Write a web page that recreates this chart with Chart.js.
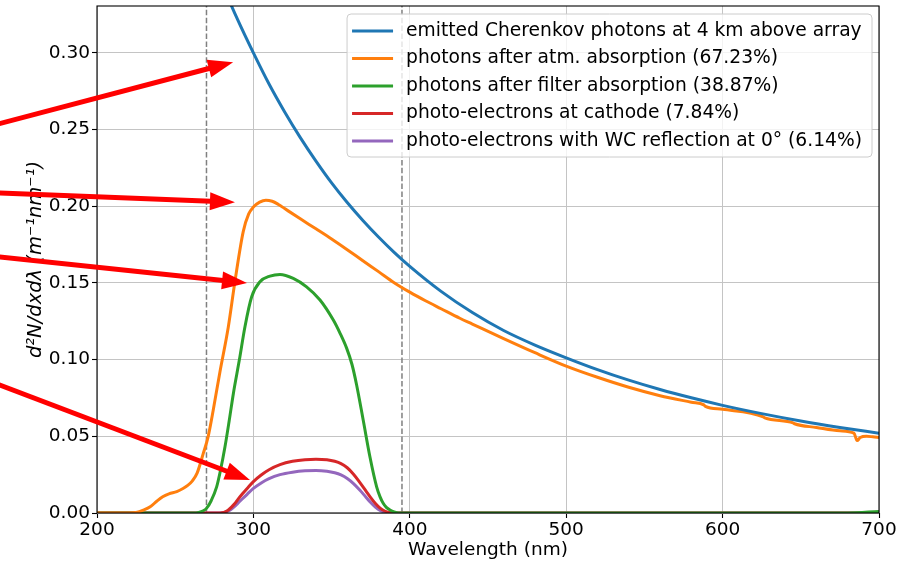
<!DOCTYPE html>
<html>
<head>
<meta charset="utf-8">
<script src="https://cdn.jsdelivr.net/npm/chart.js@4.4.1/dist/chart.umd.min.js"></script>
<style>
  html, body { margin: 0; padding: 0; background: #fff; }
  #wrap { width: 906px; height: 563px; }
</style>
</head>
<body>
<div id="wrap"><canvas id="c" width="906" height="563"></canvas></div>
<script>
// ---------------- data ----------------
const seriesLabels = [
  'emitted Cherenkov photons at 4 km above array',
  'photons after atm. absorption (67.23%)',
  'photons after filter absorption (38.87%)',
  'photo-electrons at cathode (7.84%)',
  'photo-electrons with WC reflection at 0\u00b0 (6.14%)'
];
const xTicks = [200, 300, 400, 500, 600, 700];
const yTicks = [0, 0.05, 0.10, 0.15, 0.20, 0.25, 0.30];
const yMax = 0.3306;
const cutWavelengths = [270, 395];

const wlCherenkov = [200,250,270,280,290,300,310,320,330,340,350,360,370,380,390,400,420,440,460,480,500,520,540,560,580,600,625,650,675,700];
const valCherenkov = [0.700,0.435,0.371,0.345,0.3215,0.300,0.2797,0.2615,0.2448,0.2295,0.2153,0.2025,0.1908,0.1800,0.1700,0.1608,0.1445,0.1307,0.1190,0.1095,0.1012,0.0935,0.0866,0.0805,0.0751,0.0702,0.0648,0.0600,0.0558,0.0520];

const wlAtm = [200,220,225,230,234,238,242,246,251,255,258,261,264,268,271,274.3,278.6,283.9,288.2,293.5,297,300,304,308,312,316,320,330,340,350,360,370,380,390,400,410,420,432,440,460,480,500,520,540,560,580,588,589,600,626,627,645,646,660,675,684,686,688,692,696,700];
const valAtm = [0,0,0.0003,0.002,0.004,0.0075,0.0106,0.0125,0.014,0.016,0.018,0.021,0.026,0.039,0.0495,0.067,0.092,0.121,0.151,0.1835,0.195,0.1995,0.2027,0.204,0.2033,0.2012,0.1985,0.1918,0.1853,0.1787,0.1717,0.1645,0.1574,0.1502,0.1440,0.1384,0.1332,0.127,0.1232,0.1137,0.1045,0.0958,0.0885,0.082,0.0765,0.0722,0.0705,0.0695,0.0676,0.0627,0.0620,0.0588,0.0582,0.0558,0.0536,0.0521,0.0472,0.0492,0.0500,0.0497,0.0493];

const wlFilter = [200,262,265,268,270,273,276.5,279,281.8,284.5,287.2,291,294.6,298.9,304.2,310.6,317,325.5,334,342.6,351.1,355.5,359.6,363,366,370.2,374.5,378.8,381,383,385,387.3,390,393,680,700];
const valFilter = [0,0,0.0004,0.0015,0.003,0.008,0.017,0.028,0.043,0.060,0.078,0.0997,0.1215,0.141,0.1508,0.1545,0.1556,0.153,0.1475,0.1389,0.1258,0.117,0.1075,0.097,0.0835,0.0606,0.0367,0.0171,0.0105,0.0063,0.0037,0.002,0.0007,0,0,0.001];

const wlPE = [200,278,280,282,284,286,288,290,293,296,300,305,310,317,325,333,340,347,352,356,360,364,368,372,375,378,381,384,387,390,700];
const valCathode = [0,0,0.0002,0.0008,0.002,0.0038,0.006,0.0087,0.0125,0.016,0.0205,0.0248,0.0282,0.0315,0.0337,0.0348,0.0351,0.0347,0.0337,0.0322,0.0295,0.0253,0.0200,0.0143,0.0100,0.0062,0.0032,0.0013,0.0004,0,0];
const valWC = [0,0,0.0001,0.0005,0.0013,0.0026,0.0043,0.0063,0.0093,0.0122,0.016,0.0196,0.0224,0.025,0.0266,0.0275,0.0277,0.0272,0.0262,0.0248,0.0225,0.0192,0.0150,0.0103,0.0068,0.0038,0.0017,0.0006,0.0001,0,0];

// annotation arrows (data coordinates: start, tip)
const arrowStarts = [[125, 0.2505], [125, 0.2091], [125, 0.1683], [125, 0.0884]];
const arrowTips   = [[287, 0.294], [288.2, 0.2027], [295.9, 0.150], [297.8, 0.0215]];

const colors = ['#1f77b4', '#ff7f0e', '#2ca02c', '#d62728', '#9467bd'];

// ---------------- build ----------------
const pts = (xs, ys) => xs.map((x, i) => ({ x: x, y: ys[i] }));
const seriesData = [
  pts(wlCherenkov, valCherenkov),
  pts(wlAtm, valAtm),
  pts(wlFilter, valFilter),
  pts(wlPE, valCathode),
  pts(wlPE, valWC)
];

const FONT = 'DejaVu Sans';
Chart.defaults.font.family = FONT;
Chart.defaults.font.size = 18.5;
Chart.defaults.color = '#000';

const decorPlugin = {
  id: 'decor',
  beforeDatasetsDraw(chart) {
    const { ctx, chartArea: a, scales: { x, y } } = chart;
    ctx.save();
    ctx.beginPath();
    ctx.rect(a.left, a.top, a.right - a.left, a.bottom - a.top);
    ctx.clip();
    ctx.strokeStyle = '#808080';
    ctx.lineWidth = 1.5;
    ctx.setLineDash([5.5, 2.4]);
    cutWavelengths.forEach(w => {
      const px = x.getPixelForValue(w);
      ctx.beginPath();
      ctx.moveTo(px, y.getPixelForValue(0));
      ctx.lineTo(px, y.getPixelForValue(yMax));
      ctx.stroke();
    });
    ctx.restore();
  },
  afterDatasetsDraw(chart) {
    const { ctx, chartArea: a } = chart;
    ctx.save();
    ctx.strokeStyle = '#000';
    ctx.lineWidth = 1.1;
    ctx.strokeRect(a.left, a.top, a.right - a.left, a.bottom - a.top);
    ctx.restore();
  },
  afterDraw(chart) {
    const { ctx, chartArea: a, scales: { x, y } } = chart;
    // legend
    ctx.save();
    ctx.font = '18.7px "' + FONT + '"';
    const maxW = Math.max(...seriesLabels.map(t => ctx.measureText(t).width));
    const rowH = 27.5;
    const bw = 5 + 41 + 13 + maxW + 10;
    const bh = 17 + rowH * (seriesLabels.length - 1) + 16;
    const bx = a.right - 7 - bw;
    const by = a.top + 8;
    ctx.beginPath();
    if (ctx.roundRect) ctx.roundRect(bx, by, bw, bh, 4); else ctx.rect(bx, by, bw, bh);
    ctx.fillStyle = 'rgba(255,255,255,0.8)';
    ctx.fill();
    ctx.strokeStyle = '#cccccc';
    ctx.lineWidth = 1;
    ctx.stroke();
    chart.data.datasets.forEach((ds, i) => {
      const cy = by + 17 + i * rowH;
      ctx.strokeStyle = ds.borderColor;
      ctx.lineWidth = 3;
      ctx.beginPath();
      ctx.moveTo(bx + 5, cy);
      ctx.lineTo(bx + 46, cy);
      ctx.stroke();
      ctx.fillStyle = '#000';
      ctx.textBaseline = 'middle';
      ctx.textAlign = 'left';
      ctx.fillText(ds.label, bx + 59, cy);
    });
    ctx.restore();

    // arrows
    ctx.save();
    ctx.fillStyle = '#ff0000';
    ctx.strokeStyle = '#ff0000';
    ctx.lineWidth = 5;
    arrowStarts.forEach((s, i) => {
      const t = arrowTips[i];
      const x0 = x.getPixelForValue(s[0]), y0 = y.getPixelForValue(s[1]);
      const x1 = x.getPixelForValue(t[0]), y1 = y.getPixelForValue(t[1]);
      const ang = Math.atan2(y1 - y0, x1 - x0);
      const hl = 25, hw = 9;
      const bxp = x1 - hl * Math.cos(ang), byp = y1 - hl * Math.sin(ang);
      ctx.beginPath();
      ctx.moveTo(x0, y0);
      ctx.lineTo(bxp + 1 * Math.cos(ang), byp + 1 * Math.sin(ang));
      ctx.stroke();
      ctx.beginPath();
      ctx.moveTo(x1, y1);
      ctx.lineTo(bxp - hw * Math.sin(ang), byp + hw * Math.cos(ang));
      ctx.lineTo(bxp + hw * Math.sin(ang), byp - hw * Math.cos(ang));
      ctx.closePath();
      ctx.fill();
    });
    ctx.restore();
  }
};

new Chart(document.getElementById('c'), {
  type: 'line',
  data: {
    datasets: seriesData.map((d, i) => ({
      label: seriesLabels[i],
      data: d,
      borderColor: colors[i],
      backgroundColor: colors[i],
      borderWidth: 3,
      pointRadius: 0,
      fill: false,
      cubicInterpolationMode: 'monotone',
      borderCapStyle: 'butt'
    }))
  },
  options: {
    responsive: false,
    animation: false,
    events: [],
    layout: { padding: { left: 0, right: 27, top: 6, bottom: 0 } },
    plugins: { legend: { display: false }, tooltip: { enabled: false } },
    scales: {
      x: {
        type: 'linear',
        min: 200, max: 700,
        afterBuildTicks: s => { s.ticks = xTicks.map(v => ({ value: v })); },
        afterFit: s => { s.height = 50; s.paddingLeft = 0; s.paddingRight = 0; },
        grid: { color: '#c4c4c4', lineWidth: 1, tickColor: '#000', tickLength: 5, tickWidth: 1.1 },
        border: { display: false },
        ticks: { padding: 1, maxRotation: 0, autoSkip: false, color: '#000', callback: v => String(v) },
        title: { display: true, text: 'Wavelength (nm)', color: '#000', font: { size: 18.5 }, padding: { top: 0, bottom: 2 } }
      },
      y: {
        type: 'linear',
        min: 0, max: yMax,
        afterBuildTicks: s => { s.ticks = yTicks.map(v => ({ value: v })); },
        afterFit: s => { s.width = 97; s.paddingTop = 0; s.paddingBottom = 0; },
        grid: { color: '#c4c4c4', lineWidth: 1, tickColor: '#000', tickLength: 5, tickWidth: 1.1 },
        border: { display: false },
        ticks: { padding: 2, color: '#000', callback: v => Number(v).toFixed(2) },
        title: { display: true, text: 'd\u00b2N/dxd\u03bb (m\u207b\u00b9nm\u207b\u00b9)', color: '#000', font: { size: 19.5, style: 'italic' }, padding: { top: 24, bottom: 0 } }
      }
    }
  },
  plugins: [decorPlugin]
});
</script>
</body>
</html>
